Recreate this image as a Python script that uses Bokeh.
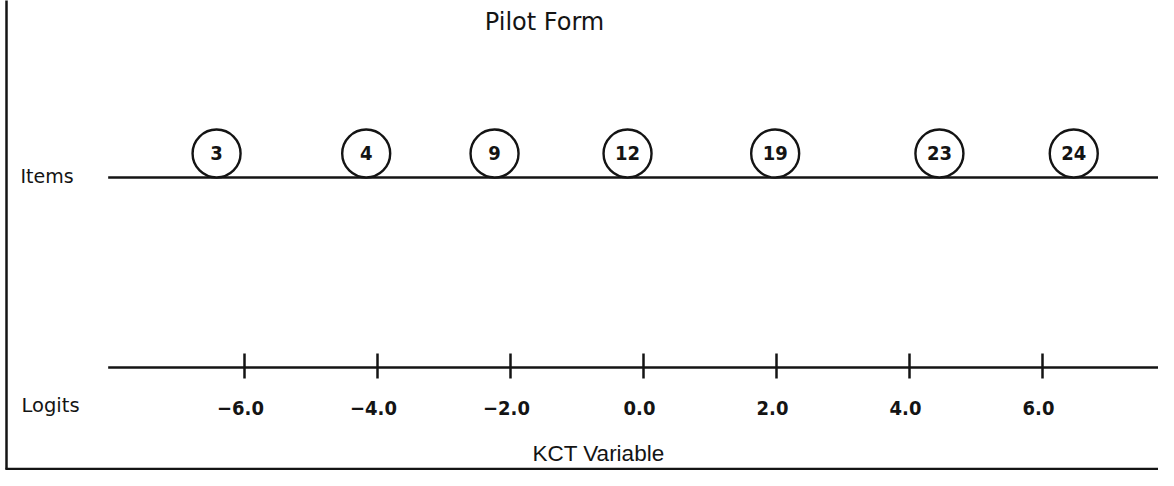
from bokeh.plotting import figure
from bokeh.models import Range1d
from bokeh.core.properties import value
from bokeh.embed import file_html
from bokeh.resources import INLINE

# ---- data ----
item_labels = ["3", "4", "9", "12", "19", "23", "24"]
item_logits = [-6.42, -4.17, -2.24, -0.24, 1.98, 4.45, 6.47]
tick_values = [-6.0, -4.0, -2.0, 0.0, 2.0, 4.0, 6.0]
tick_labels = ["\u22126.0", "\u22124.0", "\u22122.0", "0.0", "2.0", "4.0", "6.0"]
axis_extent = [-8.05, 7.85]

# ---- layout ----
W, H = 1158, 470
PX_PER_UNIT = 66.5
ORIGIN_PX = 643.0


def px2x(px):
    return (px - ORIGIN_PX) / PX_PER_UNIT


p = figure(width=W, height=H, output_backend="svg", toolbar_location=None,
           x_range=Range1d(px2x(0), px2x(W)), y_range=Range1d(H, 0),
           x_axis_type=None, y_axis_type=None, min_border=0,
           outline_line_color=None, background_fill_color="white",
           border_fill_color="white")
p.grid.visible = False

INK = "#141414"
ITEMS_Y = 177
AXIS_Y = 367
R = 24

# frame (left and bottom edges of the scanned box)
p.segment(x0=[px2x(6)], y0=[-5], x1=[px2x(6)], y1=[469], line_color=INK, line_width=2.5)
p.segment(x0=[px2x(5)], y0=[468.5], x1=[px2x(W)], y1=[468.5], line_color=INK, line_width=2.5)

# item line and circled items
p.segment(x0=[axis_extent[0]], y0=[ITEMS_Y], x1=[axis_extent[1] + 0.05], y1=[ITEMS_Y],
          line_color=INK, line_width=2.5)
p.scatter(x=item_logits, y=[ITEMS_Y - R] * len(item_logits), size=2 * R, marker="circle",
          fill_color="white", line_color=INK, line_width=2.4)
p.text(x=item_logits, y=[ITEMS_Y - R - 1] * len(item_logits), text=item_labels,
       text_align="center", text_baseline="alphabetic",
       text_font=value("DejaVu Sans Condensed"), text_font_style="bold",
       text_font_size="20px", text_color=INK)

# logit axis
p.segment(x0=[axis_extent[0]], y0=[AXIS_Y], x1=[axis_extent[1]], y1=[AXIS_Y],
          line_color=INK, line_width=2.5)
p.segment(x0=tick_values, y0=[AXIS_Y - 14] * len(tick_values),
          x1=tick_values, y1=[AXIS_Y + 11] * len(tick_values),
          line_color=INK, line_width=2.5)
p.text(x=tick_values, y=[407] * len(tick_values), text=tick_labels,
       x_offset=-4, text_align="center", text_baseline="alphabetic",
       text_font=value("DejaVu Sans Condensed"), text_font_style="bold",
       text_font_size="20px", text_color=INK)

# labels
p.text(x=[px2x(20)], y=[175], text=["Items"], text_align="left", text_baseline="alphabetic",
       text_font=value("DejaVu Sans"), text_font_size="19px", text_color=INK)
p.text(x=[px2x(21)], y=[405], text=["Logits"], text_align="left", text_baseline="alphabetic",
       text_font=value("DejaVu Sans"), text_font_size="19.5px", text_color=INK)
p.text(x=[px2x(544)], y=[21], text=["Pilot Form"], text_align="center", text_baseline="alphabetic",
       text_font=value("DejaVu Sans"), text_font_size="24px", text_color=INK)
p.text(x=[px2x(598)], y=[453], text=["KCT Variable"], text_align="center", text_baseline="alphabetic",
       text_font=value("Liberation Sans"), text_font_size="22.5px", text_color=INK)

open("out.html", "w").write(file_html(p, INLINE))
